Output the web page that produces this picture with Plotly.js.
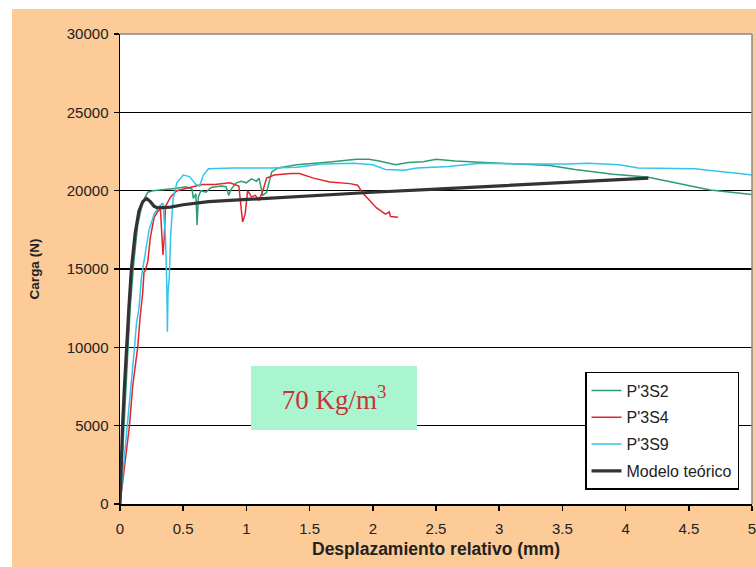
<!DOCTYPE html>
<html>
<head>
<meta charset="utf-8">
<script src="https://cdn.plot.ly/plotly-3.0.1.min.js"></script>
<style>html,body{margin:0;padding:0;background:#fff;}#chart{width:756px;height:567px;}</style>
</head>
<body>
<div id="chart"></div>
<script>
// Series names
const seriesNames = ["P'3S2", "P'3S4", "P'3S9", "Modelo teórico"];

// P'3S2 (green)
const s2_x = [0, 0.02, 0.04, 0.06, 0.08, 0.11, 0.14, 0.18, 0.22, 0.26, 0.35, 0.45, 0.52, 0.57, 0.58, 0.60, 0.61, 0.62, 0.64, 0.68, 0.72, 0.80, 0.84, 0.86, 0.88, 0.92, 0.96, 1.00, 1.04, 1.08, 1.10, 1.13, 1.16, 1.20, 1.25, 1.40, 1.66, 1.87, 1.97, 2.05, 2.18, 2.28, 2.40, 2.50, 2.65, 2.90, 3.20, 3.40, 3.60, 3.90, 4.17, 4.50, 4.67, 5.00];
const s2_y = [0, 3000, 6000, 9500, 12500, 15500, 17800, 19300, 19900, 20000, 20050, 20150, 20250, 20100, 19500, 19800, 17800, 19600, 20000, 19900, 20200, 20300, 20250, 19700, 20100, 20500, 20600, 20500, 20750, 20600, 20800, 19700, 19900, 21200, 21450, 21650, 21830, 22000, 22000, 21900, 21650, 21800, 21850, 22000, 21900, 21800, 21700, 21600, 21350, 21050, 20870, 20350, 20040, 19750];

// P'3S4 (red)
const s4_x = [0, 0.04, 0.075, 0.10, 0.14, 0.16, 0.18, 0.19, 0.20, 0.22, 0.24, 0.27, 0.30, 0.32, 0.33, 0.34, 0.35, 0.36, 0.40, 0.45, 0.55, 0.65, 0.75, 0.87, 0.94, 0.97, 0.99, 1.01, 1.04, 1.07, 1.10, 1.13, 1.16, 1.22, 1.35, 1.42, 1.53, 1.66, 1.82, 1.88, 1.92, 1.98, 2.03, 2.10, 2.13, 2.14, 2.20];
const s4_y = [0, 2500, 5000, 7500, 10000, 12000, 13500, 14800, 14900, 15500, 17000, 18300, 18700, 18800, 17500, 15900, 17000, 19000, 19600, 20000, 20200, 20400, 20400, 20500, 20300, 18000, 18500, 20000, 19600, 19700, 19400, 20000, 20800, 21000, 21100, 21100, 20800, 20550, 20450, 20350, 19850, 19300, 18900, 18500, 18650, 18350, 18300];

// P'3S9 (cyan)
const s9_x = [0, 0.03, 0.06, 0.09, 0.115, 0.13, 0.15, 0.17, 0.20, 0.23, 0.27, 0.31, 0.34, 0.36, 0.37, 0.375, 0.38, 0.39, 0.40, 0.42, 0.45, 0.50, 0.55, 0.60, 0.63, 0.66, 0.70, 0.90, 1.20, 1.40, 1.60, 1.85, 2.00, 2.10, 2.25, 2.35, 2.60, 2.85, 3.20, 3.55, 3.70, 3.95, 4.10, 4.55, 4.65, 4.80, 4.90, 5.00];
const s9_y = [0, 2500, 5000, 7500, 10000, 11500, 12500, 14500, 16000, 17500, 18500, 19000, 19200, 17000, 14000, 11000, 13500, 14500, 17000, 19500, 20500, 21000, 20900, 20400, 20300, 21000, 21400, 21450, 21450, 21500, 21700, 21750, 21650, 21350, 21300, 21450, 21550, 21750, 21700, 21700, 21750, 21650, 21450, 21400, 21300, 21200, 21100, 21000];

// Modelo teórico (black)
const mod_x = [0, 0.01, 0.02, 0.035, 0.05, 0.07, 0.09, 0.12, 0.15, 0.18, 0.21, 0.24, 0.27, 0.30, 0.40, 0.50, 0.70, 1.00, 1.50, 2.00, 2.50, 3.00, 3.50, 4.00, 4.18];
const mod_y = [0, 3000, 5000, 7500, 10000, 12500, 15000, 17300, 18700, 19300, 19500, 19300, 19000, 18900, 18950, 19100, 19300, 19450, 19650, 19900, 20100, 20300, 20500, 20700, 20800];

const xTicks = [0, 0.5, 1, 1.5, 2, 2.5, 3, 3.5, 4, 4.5, 5];
const yTicks = [0, 5000, 10000, 15000, 20000, 25000, 30000];
const boxLabel = '70 Kg/m<sup>3</sup>';

const colors = ['#2F9B73', '#E5242B', '#33C3EC', '#333333'];
const widths = [1.5, 1.5, 1.5, 3.2];
const xs = [s2_x, s4_x, s9_x, mod_x];
const ys = [s2_y, s4_y, s9_y, mod_y];

const traces = seriesNames.map((n, i) => ({
  type: 'scatter', mode: 'lines', name: n, x: xs[i], y: ys[i],
  legendgroup: 'g' + i,
  line: {color: colors[i], width: widths[i]}
}));

const sans = '"Liberation Sans", Arial, sans-serif';
const tickFont = {family: sans, size: 15, color: '#222'};

const layout = {
  width: 756, height: 567,
  paper_bgcolor: '#FCCB98', plot_bgcolor: '#FFFFFF',
  margin: {l: 120, r: 4, t: 34, b: 63, autoexpand: false},
  showlegend: true,
  xaxis: {
    range: [0, 5], tickvals: xTicks, ticks: 'outside', ticklen: 5, tickwidth: 1.5, tickcolor: '#000',
    showline: true, linecolor: '#000', linewidth: 1.5, showgrid: false, zeroline: false,
    tickfont: tickFont, automargin: false, ticklabelstandoff: 5, ticklabeloverflow: 'allow',
    title: {text: 'Desplazamiento relativo (mm)', font: {family: sans, size: 17.5, color: '#222', weight: 'bold'}, standoff: 7}
  },
  yaxis: {
    range: [0, 30000], tickvals: yTicks, ticks: 'outside', ticklen: 5, tickwidth: 1.5, tickcolor: '#000',
    showline: true, linecolor: '#000', linewidth: 1.5, showgrid: true, gridcolor: '#000', gridwidth: 1.5,
    zeroline: false, tickformat: 'd',
    tickfont: tickFont, automargin: false, ticklabelstandoff: 2,
    title: {text: 'Carga (N)', font: {family: sans, size: 13.5, color: '#222', weight: 'bold'}, standoff: 24}
  },
  legend: {
    x: 0.7358, y: 0.2809, xanchor: 'left', yanchor: 'top',
    bgcolor: '#FFFFFF', bordercolor: '#000', borderwidth: 1.5,
    font: {family: sans, size: 16, color: '#222'},
    tracegroupgap: 3, traceorder: 'grouped'
  },
  shapes: [
    {type: 'rect', xref: 'paper', yref: 'paper', x0: -0.3, x1: -0.1709, y0: -0.3, y1: 1.3, fillcolor: '#FFFFFF', line: {width: 0}, layer: 'below'},
    {type: 'rect', xref: 'paper', yref: 'paper', x0: -0.3, x1: 1.2, y0: 1.0532, y1: 1.3, fillcolor: '#FFFFFF', line: {width: 0}, layer: 'below'},
    {type: 'line', xref: 'paper', yref: 'paper', x0: 0, x1: 1, y0: 1, y1: 1, line: {color: '#888', width: 1.5}, layer: 'above'},
    {type: 'line', xref: 'paper', yref: 'paper', x0: 1, x1: 1, y0: 0, y1: 1, line: {color: '#888', width: 1.5}, layer: 'above'}
  ],
  annotations: [{
    x: 1.696, y: 6766, xref: 'x', yref: 'y', text: boxLabel, showarrow: false,
    width: 166, height: 64, borderpad: 0, borderwidth: 0, bgcolor: '#A8F5D0',
    font: {family: '"Liberation Serif", "Times New Roman", serif', size: 27, color: '#C8333A'}
  }]
};

Plotly.newPlot('chart', traces, layout, {displayModeBar: false, staticPlot: true});
</script>
</body>
</html>
